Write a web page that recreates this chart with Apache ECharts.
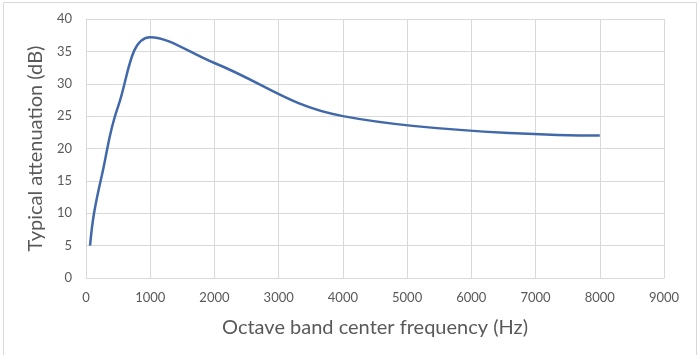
<!DOCTYPE html>
<html>
<head>
<meta charset="utf-8">
<script src="https://cdn.jsdelivr.net/npm/echarts@6/dist/echarts.min.js"></script>
<style>html,body{margin:0;padding:0;background:#fff}#c{width:700px;height:355px}</style>
</head>
<body>
<div id="c"></div>
<script>
var frequencies = [63, 125, 250, 500, 1000, 2000, 4000, 8000];
var attenuation = [5, 10, 16, 26.5, 37.2, 33.2, 25, 22];
var xTitle = 'Octave band center frequency (Hz)';
var yTitle = 'Typical attenuation (dB)';

var chart = echarts.init(document.getElementById('c'), null, {renderer: 'canvas'});
var font = 'Lato, "Open Sans", sans-serif';
chart.setOption({
  animation: false,
  backgroundColor: '#fff',
  graphic: [{
    type: 'rect', shape: {x: 3.5, y: 2.5, width: 693, height: 360},
    style: {fill: 'none', stroke: '#d9d9d9', lineWidth: 1}, silent: true
  }],
  grid: {left: 86, right: 36, top: 19, bottom: 77},
  xAxis: {
    type: 'value', min: 0, max: 9000, interval: 1000,
    name: xTitle, nameLocation: 'middle', nameGap: 40,
    nameTextStyle: {fontSize: 20, color: '#595959', fontFamily: font},
    axisLine: {show: true, lineStyle: {color: '#d9d9d9', width: 1}},
    axisTick: {show: false},
    axisLabel: {fontSize: 13, color: '#595959', margin: 13, fontFamily: font,
      formatter: function (v) { return String(v); }},
    splitLine: {show: true, lineStyle: {color: '#d9d9d9', width: 1}}
  },
  yAxis: {
    type: 'value', min: 0, max: 40, interval: 5,
    name: yTitle, nameLocation: 'middle', nameGap: 38,
    nameTextStyle: {fontSize: 20, color: '#595959', fontFamily: font},
    axisLine: {show: true, lineStyle: {color: '#d9d9d9', width: 1}},
    axisTick: {show: false},
    axisLabel: {fontSize: 13, color: '#595959', margin: 14, fontFamily: font},
    splitLine: {show: true, lineStyle: {color: '#d9d9d9', width: 1}}
  },
  series: [{
    type: 'line',
    data: frequencies.map(function (f, i) { return [f, attenuation[i]]; }),
    smooth: 0.4,
    showSymbol: false,
    lineStyle: {color: '#4169aa', width: 2.5}
  }]
});
</script>
</body>
</html>
